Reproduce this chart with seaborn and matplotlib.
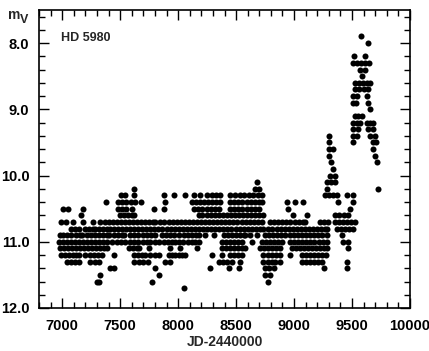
import matplotlib
matplotlib.use("Agg")
import matplotlib.pyplot as plt
import numpy as np
import pandas as pd
import seaborn as sns
from matplotlib.ticker import MultipleLocator, FormatStrFormatter

# Julian dates (JD-2440000) of the estimates, grouped by visual magnitude
m79 = [9577]
m80 = [9640]
m82 = [9520, 9612]
m83 = [9511, 9545, 9580, 9612, 9650]
m84 = [9569, 9612]
m85 = [9583]
m86 = [9526, 9560, 9595, 9630, 9655]
m87 = [9526, 9560, 9600, 9640]
m88 = [9511, 9540, 9626]
m89 = [9511, 9530, 9640]
m90 = [9655]
m91 = [9526, 9555, 9583]
m92 = [9511, 9545, 9569, 9626, 9655, 9684]
m93 = [9511, 9554, 9640, 9684]
m94 = [9305, 9511, 9540, 9655, 9698]
m95 = [9305, 9511, 9684, 9705]
m96 = [9305, 9340, 9684]
m97 = [9305, 9698]
m98 = [9316, 9712]
m99 = [9333]
m100 = [9310, 9350]
m101 = [8679, 9287, 9320, 9350]
m102 = [7617, 8665, 8700, 9287, 9727]
m103 = [7511, 7540, 7617, 7875, 7961, 8062, 8134, 8191, 8248, 8291, 8330, 8363,
        8449, 8490, 8530, 8570, 8610, 8650, 8690, 8722, 9267, 9300, 9335, 9368,
        9454, 9511]
m104 = [7379, 7482, 7515, 7550, 7590, 7626, 7680, 7890, 8119, 8150, 8185, 8220,
        8255, 8290, 8325, 8360, 8449, 8485, 8520, 8555, 8590, 8625, 8660, 8695,
        8722, 8937, 9009, 9081, 9382, 9505]
m105 = [7006, 7049, 7180, 7482, 7515, 7551, 7603, 7789, 7875, 8140, 8175, 8210,
        8245, 8280, 8315, 8350, 8449, 8485, 8520, 8555, 8590, 8625, 8660, 8700,
        8952, 9483]
m106 = [7166, 7502, 7535, 7570, 7600, 7617, 8177, 8210, 8245, 8280, 8315, 8349,
        8385, 8420, 8455, 8490, 8525, 8560, 8595, 8630, 8665, 8700, 8736, 8995,
        9110, 9354, 9390, 9430, 9468]
m107 = [6986, 7029, 7092, 7178, 7267, 7330, 7365, 7400, 7435, 7470, 7505, 7540,
        7575, 7610, 7645, 7680, 7715, 7750, 7785, 7804, 7847, 7882, 7917, 7952,
        7987, 8022, 8057, 8092, 8127, 8162, 8197, 8232, 8267, 8302, 8337, 8372,
        8407, 8442, 8477, 8512, 8547, 8582, 8617, 8652, 8687, 8722, 8794, 8829,
        8864, 8899, 8934, 8969, 9004, 9039, 9074, 9095, 9224, 9260, 9296, 9354,
        9390, 9425, 9460, 9495, 9526]
m108 = [7072, 7107, 7143, 7195, 7230, 7265, 7287, 7316, 7350, 7385, 7416, 7445,
        7480, 7515, 7550, 7585, 7620, 7655, 7690, 7725, 7760, 7795, 7830, 7865,
        7900, 7935, 7970, 8005, 8040, 8075, 8110, 8145, 8180, 8215, 8250, 8285,
        8320, 8355, 8390, 8425, 8460, 8495, 8530, 8565, 8600, 8635, 8670, 8705,
        8736, 8779, 8814, 8849, 8884, 8919, 8954, 8989, 9024, 9059, 9094, 9129,
        9164, 9199, 9234, 9269, 9282, 9368, 9403, 9438, 9473, 9511]
m109 = [6977, 7010, 7045, 7080, 7115, 7150, 7172, 7210, 7245, 7280, 7315, 7350,
        7385, 7402, 7445, 7480, 7515, 7531, 7588, 7623, 7658, 7693, 7728, 7763,
        7804, 7861, 7896, 7931, 7966, 8005, 8048, 8083, 8118, 8153, 8177, 8234,
        8306, 8392, 8427, 8462, 8497, 8532, 8567, 8579, 8622, 8679, 8751, 8786,
        8821, 8856, 8891, 8926, 8961, 8996, 9031, 9066, 9101, 9136, 9171, 9206,
        9241, 9282, 9411]
m110 = [6971, 7005, 7040, 7075, 7110, 7145, 7180, 7215, 7250, 7285, 7320, 7355,
        7390, 7430, 7474, 7510, 7545, 7588, 7623, 7658, 7693, 7728, 7761, 7804,
        7839, 7874, 7909, 7947, 7976, 8011, 8046, 8081, 8116, 8148, 8177, 8378,
        8415, 8450, 8485, 8520, 8550, 8636, 8722, 8757, 8792, 8827, 8862, 8894,
        8966, 9001, 9036, 9071, 9106, 9141, 9176, 9211, 9246, 9282, 9420, 9468]
m111 = [6977, 7012, 7047, 7082, 7117, 7152, 7187, 7222, 7257, 7292, 7327, 7362,
        7387, 7574, 7610, 7645, 7660, 7746, 7933, 8019, 8162, 8378, 8413, 8448,
        8483, 8518, 8553, 8579, 8708, 8743, 8778, 8813, 8848, 8880, 8980, 9015,
        9050, 9085, 9120, 9155, 9190, 9225, 9260, 9282, 9468]
m112 = [6986, 7021, 7056, 7091, 7115, 7144, 7201, 7236, 7271, 7306, 7345, 7445,
        7617, 7652, 7687, 7718, 7760, 7800, 7832, 7918, 7950, 7976, 8005, 8035,
        8062, 8292, 8378, 8449, 8484, 8519, 8550, 8736, 8771, 8806, 8841, 8880,
        8966, 9066, 9101, 9136, 9171, 9210, 9240, 9275]
m113 = [7043, 7075, 7110, 7144, 7244, 7280, 7316, 7617, 7660, 7700, 7740, 7890,
        7933, 8349, 8384, 8419, 8464, 8535, 8736, 8771, 8806, 8837, 8880, 9066,
        9101, 9136, 9171, 9210, 9245, 9454]
m114 = [7416, 7445, 7804, 8277, 8435, 8521, 8751, 8786, 8823, 9259, 9454]
m115 = [7330, 7832, 8751, 8794]
m116 = [7301, 7316, 7775, 8779]
m117 = [8048]

mag_levels = [7.9, 8.0, 8.2, 8.3, 8.4, 8.5, 8.6, 8.7, 8.8, 8.9, 9.0, 9.1, 9.2,
              9.3, 9.4, 9.5, 9.6, 9.7, 9.8, 9.9, 10.0, 10.1, 10.2, 10.3, 10.4,
              10.5, 10.6, 10.7, 10.8, 10.9, 11.0, 11.1, 11.2, 11.3, 11.4, 11.5,
              11.6, 11.7]
jd_rows = [m79, m80, m82, m83, m84, m85, m86, m87, m88, m89, m90, m91, m92, m93,
           m94, m95, m96, m97, m98, m99, m100, m101, m102, m103, m104, m105,
           m106, m107, m108, m109, m110, m111, m112, m113, m114, m115, m116,
           m117]

x_ticks = [7000, 7500, 8000, 8500, 9000, 9500, 10000]
y_ticks = [8.0, 9.0, 10.0, 11.0, 12.0]

df = pd.concat([pd.DataFrame({"jd": jd, "mag": [m] * len(jd)})
                for m, jd in zip(mag_levels, jd_rows)], ignore_index=True)

sns.set_style("ticks")
plt.rcParams['font.family'] = ['Liberation Sans', 'DejaVu Sans']
plt.rcParams['font.weight'] = 'bold'

W, H = 429, 351
fig = plt.figure(figsize=(W / 100, H / 100), dpi=100)
ax = fig.add_axes([39 / W, 1 - 308 / H, 371 / W, 298 / H])

sns.scatterplot(data=df, x="jd", y="mag", ax=ax, color="black", s=19,
                linewidth=0, legend=False)

ax.set_xlim(6800, 10000)
ax.set_ylim(12.0, 7.5)
ax.set_xticks(x_ticks)
ax.set_yticks(y_ticks)
ax.xaxis.set_minor_locator(MultipleLocator(100))
ax.yaxis.set_minor_locator(MultipleLocator(0.2))
ax.yaxis.set_major_formatter(FormatStrFormatter("%.1f"))
ax.tick_params(which="both", direction="in", top=True, right=True,
               colors="black", width=1.0)
ax.tick_params(which="major", length=7)
ax.tick_params(which="minor", length=4)
ax.tick_params(axis="x", which="major", pad=8, labelsize=10.5)
ax.tick_params(axis="y", which="major", pad=7, labelsize=10.5)
for lab in ax.get_xticklabels() + ax.get_yticklabels():
    lab.set_fontweight("bold")
for sp in ax.spines.values():
    sp.set_color("black")
    sp.set_linewidth(1.2)

ax.set_xlabel("JD-2440000", fontsize=10, fontweight="bold", labelpad=1)
ax.set_ylabel("")
ax.text(0.058, 0.905, "HD 5980", transform=ax.transAxes, fontsize=9,
        fontweight="bold", va="center", ha="left")
fig.text(8 / W, 1 - 15 / H, "m", fontsize=10, fontweight="bold",
         va="center", ha="left")
fig.text(20 / W, 1 - 20 / H, "V", fontsize=9, fontweight="bold",
         va="center", ha="left")

fig.savefig("out.png", dpi=100, facecolor="white")
